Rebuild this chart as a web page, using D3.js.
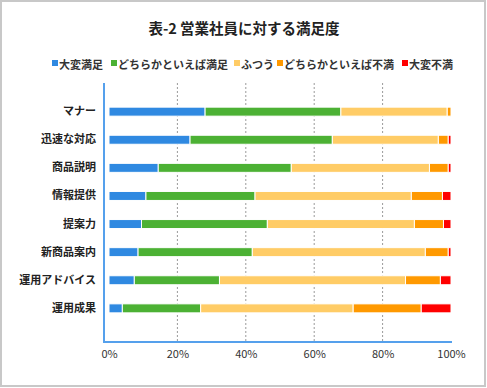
<!DOCTYPE html>
<html>
<head>
<meta charset="utf-8">
<script src="https://cdn.jsdelivr.net/npm/d3@7"></script>
<style>
  body { margin: 0; background: #fff; }
  text { font-family: "Noto Sans CJK JP", sans-serif; }
</style>
</head>
<body>
<div id="chart"></div>
<script>
var width = 487, height = 388;

// data
var categories = ["マナー", "迅速な対応", "商品説明", "情報提供", "提案力", "新商品案内", "運用アドバイス", "運用成果"];
var seriesNames = ["大変満足", "どちらかといえば満足", "ふつう", "どちらかといえば不満", "大変不満"];
var verySatisfied = [28.1, 23.7, 14.4, 10.8, 9.5, 8.5, 7.4, 3.9];
var somewhatSatisfied = [39.7, 41.6, 38.9, 31.9, 36.8, 33.4, 24.9, 22.9];
var neutral = [31.1, 31.0, 40.4, 45.7, 43.0, 50.6, 54.4, 44.6];
var somewhatDissatisfied = [1.1, 2.9, 5.5, 9.1, 8.5, 6.7, 10.2, 19.9];
var veryDissatisfied = [0, 0.8, 0.8, 2.5, 2.2, 0.8, 3.1, 8.7];
var tickValues = [0, 20, 40, 60, 80, 100];
var colors = ["#2f89e1", "#4cb134", "#ffcc66", "#ff9900", "#ff0000"];

var svg = d3.select("#chart").append("svg")
	.attr("width", width)
	.attr("height", height);

// outer frame
svg.append("rect")
	.attr("x", 1).attr("y", 1)
	.attr("width", width - 3).attr("height", height - 3)
	.attr("fill", "#fff")
	.attr("stroke", "#c8c8c8")
	.attr("stroke-width", 2);

svg.append("text")
	.attr("x", 244).attr("y", 27)
	.attr("text-anchor", "middle")
	.attr("dominant-baseline", "central")
	.attr("font-size", 14.5)
	.attr("font-weight", "bold")
	.attr("fill", "#222")
	.text("表-2 営業社員に対する満足度");

// legend
var legendX = [52, 111, 234, 277, 402];
var legend = svg.append("g");
seriesNames.forEach(function(name, i) {
	legend.append("rect")
		.attr("x", legendX[i]).attr("y", 60)
		.attr("width", 6).attr("height", 6)
		.attr("fill", colors[i]);
	legend.append("text")
		.attr("x", legendX[i] + 7).attr("y", 63.5)
		.attr("dominant-baseline", "central")
		.attr("font-size", 11)
		.attr("font-weight", "bold")
		.attr("fill", "#333")
		.text(name);
});

var plotLeft = 104, plotRight = 452, plotTop = 83, plotBottom = 342;

var x = d3.scaleLinear().domain([0, 100]).range([109, 451]);
var y = d3.scaleBand().domain(categories).range([97.6, 322.4]).paddingInner(0.68).paddingOuter(0.34);

// gridlines
svg.append("g").selectAll("line")
	.data(tickValues.filter(function(d) { return d > 0 && d < 100; }))
	.enter().append("line")
	.attr("x1", function(d) { return x(d); })
	.attr("x2", function(d) { return x(d); })
	.attr("y1", plotTop).attr("y2", plotBottom)
	.attr("stroke", "#9a9a9a")
	.attr("stroke-width", 1)
	.attr("stroke-dasharray", "2,2");

// stacked bars
var table = categories.map(function(c, i) {
	return {cat: c, s0: verySatisfied[i], s1: somewhatSatisfied[i], s2: neutral[i], s3: somewhatDissatisfied[i], s4: veryDissatisfied[i]};
});
var stack = d3.stack().keys(["s0", "s1", "s2", "s3", "s4"]);
var layers = stack(table);

svg.append("g").selectAll("g")
	.data(layers)
	.enter().append("g")
	.attr("fill", function(d, i) { return colors[i]; })
	.selectAll("rect")
	.data(function(d) { return d.filter(function(p) { return p[1] - p[0] > 0; }); })
	.enter().append("rect")
	.attr("x", function(d) { return x(d[0]); })
	.attr("width", function(d) { return x(d[1]) - x(d[0]); })
	.attr("y", function(d) { return y(d.data.cat); })
	.attr("height", y.bandwidth())
	.attr("stroke", "#fff")
	.attr("stroke-width", 1);

// axes lines
svg.append("line")
	.attr("x1", plotLeft).attr("x2", plotLeft)
	.attr("y1", plotTop).attr("y2", plotBottom + 1)
	.attr("stroke", "#55a0ec").attr("stroke-width", 2);
svg.append("line")
	.attr("x1", plotLeft - 1).attr("x2", plotRight)
	.attr("y1", plotBottom).attr("y2", plotBottom)
	.attr("stroke", "#55a0ec").attr("stroke-width", 2);

// category labels
var yAxis = d3.axisLeft(y).tickSize(0).tickPadding(8);
var gy = svg.append("g").attr("transform", "translate(" + plotLeft + ",0)").call(yAxis);
gy.select(".domain").remove();
gy.selectAll("text")
	.attr("font-family", "'Noto Sans CJK JP', sans-serif")
	.attr("font-size", 11)
	.attr("font-weight", "bold")
	.attr("fill", "#222");

// value labels
var xAxis = d3.axisBottom(x).tickValues(tickValues).tickSize(0).tickPadding(8)
	.tickFormat(function(d) { return d + "%"; });
var gx = svg.append("g").attr("transform", "translate(0," + plotBottom + ")").call(xAxis);
gx.select(".domain").remove();
gx.selectAll("text")
	.attr("font-family", "'DejaVu Sans', sans-serif")
	.attr("font-size", 11)
	.attr("fill", "#333");
</script>
</body>
</html>
